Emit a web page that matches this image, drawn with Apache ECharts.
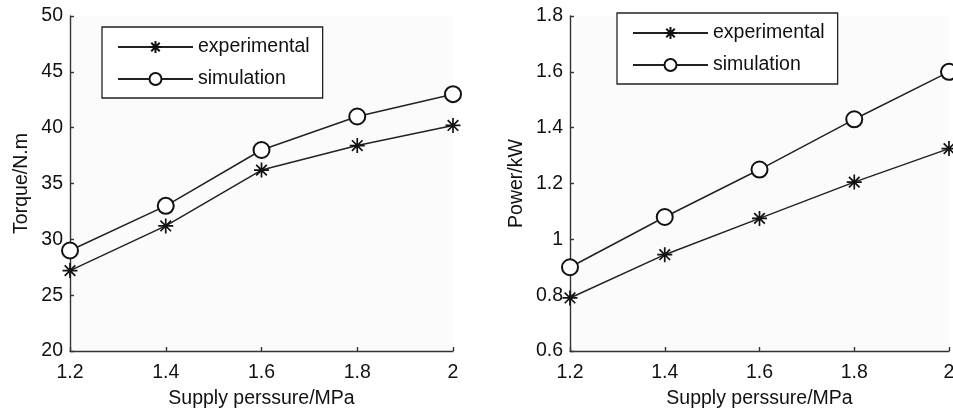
<!DOCTYPE html>
<html>
<head>
<meta charset="utf-8">
<script src="https://cdn.jsdelivr.net/npm/echarts@6/dist/echarts.min.js"></script>
<style>html,body{margin:0;padding:0;background:#fff;}#c{width:953px;height:412px;}</style>
</head>
<body>
<div id="c"></div>
<script>
var pressure = [1.2, 1.4, 1.6, 1.8, 2.0];
var torqueExperimental = [27.2, 31.2, 36.2, 38.4, 40.2];
var torqueSimulation = [29.0, 33.0, 38.0, 41.0, 43.0];
var powerExperimental = [0.79, 0.945, 1.075, 1.205, 1.325];
var powerSimulation = [0.90, 1.08, 1.25, 1.43, 1.60];
var seriesNames = ['experimental', 'simulation'];
var xAxisName = 'Supply perssure/MPa';
var yAxisNames = ['Torque/N.m', 'Power/kW'];

function pairs(xs, ys) { return xs.map(function (x, i) { return [x, ys[i]]; }); }

var FONT = '"Liberation Sans", Arial, sans-serif';
var TXT = '#111';
var AX = '#333';
var STAR = 'path://M0,-10L0,10M-10,0L10,0M-7.07,-7.07L7.07,7.07M-7.07,7.07L7.07,-7.07';

function xAxis(gi) {
  return {
    gridIndex: gi, type: 'value', min: 1.2, max: 2, interval: 0.2,
    name: xAxisName, nameLocation: 'middle', nameGap: 38,
    nameTextStyle: { fontFamily: FONT, fontSize: 19.5, color: TXT },
    axisLine: { lineStyle: { color: AX, width: 1.4 } },
    axisTick: { inside: true, length: 4, lineStyle: { color: AX, width: 1.4 } },
    axisLabel: { fontFamily: FONT, fontSize: 19.5, color: TXT, margin: 12, hideOverlap: false },
    splitLine: { show: false }
  };
}
function yAxis(gi, min, max, interval, gap) {
  return {
    gridIndex: gi, type: 'value', min: min, max: max, interval: interval,
    name: yAxisNames[gi], nameLocation: 'middle', nameGap: gap,
    nameTextStyle: { fontFamily: FONT, fontSize: 19.5, color: TXT },
    axisLine: { show: true, lineStyle: { color: AX, width: 1.4 } },
    axisTick: { show: true, inside: true, length: 4, lineStyle: { color: AX, width: 1.4 } },
    axisLabel: { fontFamily: FONT, fontSize: 19.5, color: TXT, margin: 7, padding: [3, 0, 0, 0] },
    splitLine: { show: false }
  };
}
function expSeries(gi, data) {
  return {
    name: seriesNames[0], type: 'line', xAxisIndex: gi, yAxisIndex: gi,
    data: pairs(pressure, data), symbol: STAR, symbolSize: 15,
    lineStyle: { color: '#222', width: 1.5 },
    itemStyle: { color: '#111', borderColor: '#111', borderWidth: 1.7 },
    emphasis: { disabled: true }, animation: false
  };
}
function simSeries(gi, data) {
  return {
    name: seriesNames[1], type: 'line', xAxisIndex: gi, yAxisIndex: gi,
    data: pairs(pressure, data), symbol: 'emptyCircle', symbolSize: 16,
    lineStyle: { color: '#222', width: 1.5 },
    itemStyle: { color: '#111', borderColor: '#111', borderWidth: 1.5 },
    emphasis: { disabled: true }, animation: false
  };
}
function legend(left, top) {
  return {
    data: seriesNames, orient: 'vertical', left: left, top: top,
    itemWidth: 75, itemHeight: 15, itemGap: 12,
    padding: [10, 13, 9, 15],
    borderColor: '#222', borderWidth: 1.3, backgroundColor: '#fff',
    textStyle: { fontFamily: FONT, fontSize: 19.5, color: TXT, lineHeight: 20 },
    selectedMode: false
  };
}

var chart = echarts.init(document.getElementById('c'), null, { renderer: 'canvas' });
chart.setOption({
  animation: false,
  backgroundColor: '#fff',
  grid: [
    { left: 70, right: 500, top: 16, bottom: 61, show: true, backgroundColor: '#fbfbfb', borderWidth: 0, containLabel: false, outerBoundsMode: 'none' },
    { left: 570, right: 4, top: 16, bottom: 61, show: true, backgroundColor: '#fbfbfb', borderWidth: 0, containLabel: false, outerBoundsMode: 'none' }
  ],
  legend: [legend(102, 27), legend(617, 13)],
  xAxis: [xAxis(0), xAxis(1)],
  yAxis: [yAxis(0, 20, 50, 5, 38), yAxis(1, 0.6, 1.8, 0.2, 43)],
  series: [
    expSeries(0, torqueExperimental), simSeries(0, torqueSimulation),
    expSeries(1, powerExperimental), simSeries(1, powerSimulation)
  ]
});
</script>
</body>
</html>
